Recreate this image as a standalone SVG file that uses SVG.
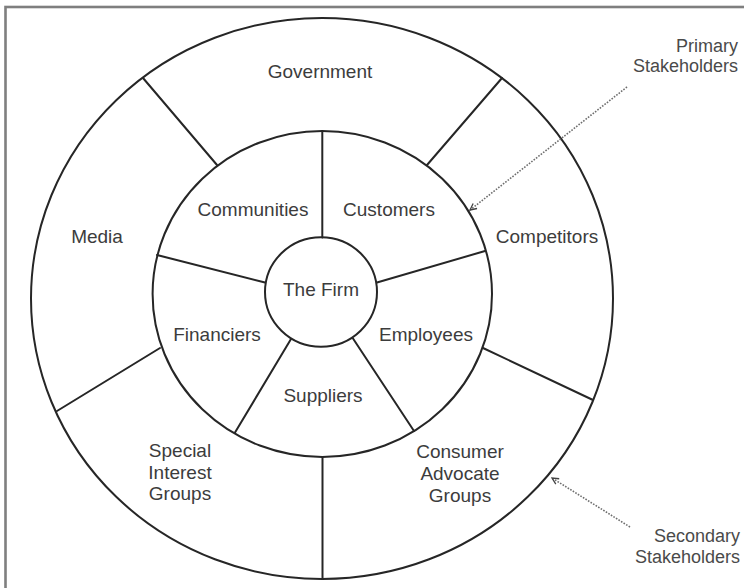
<svg xmlns="http://www.w3.org/2000/svg" width="744" height="588" viewBox="0 0 744 588">
  <style>
    .ring { fill: none; stroke: #262626; stroke-width: 2; }
    .div { stroke: #262626; stroke-width: 2; stroke-linecap: round; }
    .lbl { font-family: "Liberation Sans", Arial, sans-serif; font-size: 19px; fill: #3c3c3c; text-anchor: middle; }
    .side { font-family: "Liberation Sans", Arial, sans-serif; font-size: 18px; fill: #4a4a4a; text-anchor: end; }
    .dot { fill: none; stroke: #6e6e6e; stroke-width: 1.6; stroke-dasharray: 1.6 1.4; }
  </style>
  <defs>
    <marker id="arr" markerWidth="9" markerHeight="8" refX="7.5" refY="4" orient="auto" markerUnits="userSpaceOnUse">
      <path d="M1,0.8 L7.5,4 L1,7.2" fill="none" stroke="#444" stroke-width="1.3"/>
    </marker>
  </defs>
  <rect x="0" y="0" width="744" height="588" fill="#ffffff"/>
  <rect x="5.5" y="7" width="780" height="620" fill="none" stroke="#7f7f7f" stroke-width="2.6"/>

  <g id="wheel">
    <ellipse class="ring" cx="322" cy="298.5" rx="291" ry="280.5"/>
    <ellipse class="ring" cx="322.3" cy="294" rx="169.7" ry="163"/>
    <line class="div" x1="322.3" y1="131" x2="322.3" y2="237.5"/>
    <line class="div" x1="377" y1="282.5" x2="485" y2="251"/>
    <line class="div" x1="353" y1="338.5" x2="414" y2="431"/>
    <line class="div" x1="291" y1="339" x2="235" y2="432.5"/>
    <line class="div" x1="265" y1="282.5" x2="157" y2="255"/>
    <line class="div" x1="217" y1="165" x2="143" y2="78"/>
    <line class="div" x1="427" y1="165" x2="502" y2="78"/>
    <line class="div" x1="483" y1="348" x2="593" y2="400"/>
    <line class="div" x1="160" y1="348" x2="57" y2="411"/>
    <line class="div" x1="322.5" y1="457" x2="322.5" y2="579"/>
  </g>

  <g id="firm">
    <ellipse class="ring" cx="321" cy="292" rx="56" ry="54.7"/>
    <text class="lbl" x="321" y="296">The Firm</text>
  </g>
  <g id="communities"><text class="lbl" x="253" y="216">Communities</text></g>
  <g id="customers"><text class="lbl" x="389" y="216">Customers</text></g>
  <g id="financiers"><text class="lbl" x="217" y="341">Financiers</text></g>
  <g id="employees"><text class="lbl" x="426" y="341">Employees</text></g>
  <g id="suppliers"><text class="lbl" x="323" y="402">Suppliers</text></g>
  <g id="government"><text class="lbl" x="320" y="78">Government</text></g>
  <g id="media"><text class="lbl" x="97" y="243">Media</text></g>
  <g id="competitors"><text class="lbl" x="547" y="243">Competitors</text></g>
  <g id="special-interest-groups">
    <text class="lbl" x="180" y="457">Special</text>
    <text class="lbl" x="180" y="478.5">Interest</text>
    <text class="lbl" x="180" y="500">Groups</text>
  </g>
  <g id="consumer-advocate-groups">
    <text class="lbl" x="460" y="458">Consumer</text>
    <text class="lbl" x="460" y="480">Advocate</text>
    <text class="lbl" x="460" y="502">Groups</text>
  </g>
  <g id="primary-stakeholders">
    <text class="side" x="738" y="52">Primary</text>
    <text class="side" x="738" y="72">Stakeholders</text>
  </g>
  <g id="secondary-stakeholders">
    <text class="side" x="740" y="542">Secondary</text>
    <text class="side" x="740" y="563">Stakeholders</text>
  </g>

  <g id="connectors">
    <line class="dot" x1="627" y1="87" x2="470" y2="210" marker-end="url(#arr)"/>
    <line class="dot" x1="630" y1="527" x2="552" y2="478" marker-end="url(#arr)"/>
  </g>
</svg>
